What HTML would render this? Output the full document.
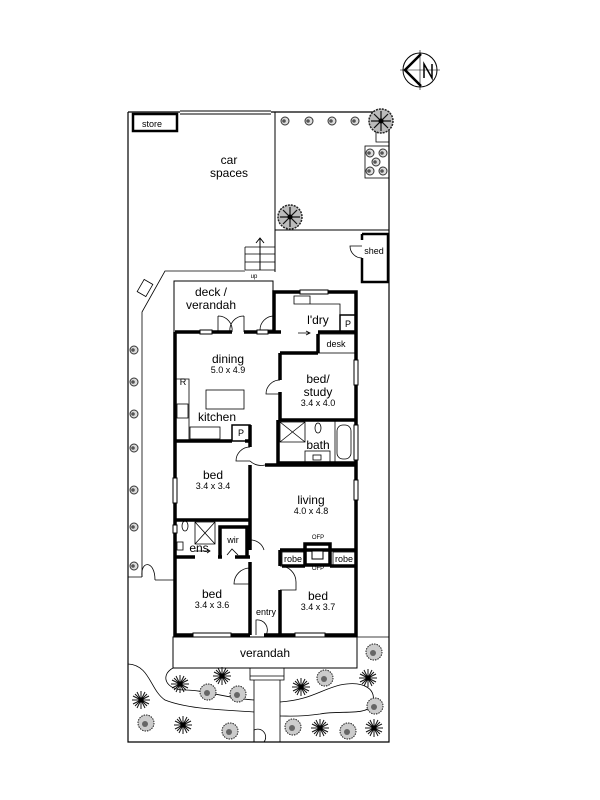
<!DOCTYPE html>
<html><head><meta charset="utf-8"><style>
html,body{margin:0;padding:0;background:#fff;}
svg{display:block;}
text{font-family:"Liberation Sans",Arial,sans-serif;fill:#000;text-anchor:middle;}
.l{font-size:12px;}
.s{font-size:9px;}
.xs{font-size:6px;}
</style></head><body>
<svg width="600" height="800" viewBox="0 0 600 800" xmlns="http://www.w3.org/2000/svg">
<defs>
<g id="sh"><circle r="4" fill="#ddd" stroke="#333" stroke-width="1"/><circle r="1.8" cx="-1" fill="#555"/></g>
<g id="tr"><circle r="12" fill="#bbb" stroke="#222" stroke-width="1.5" stroke-dasharray="2 1"/><path d="M-10 0H10M0-10V10M-7-7L7 7M7-7L-7 7" stroke="#111" stroke-width="1.2"/><circle r="2.5" fill="#000"/></g>
<g id="sp"><path d="M-9 0H9M0-9V9M-6-6L6 6M6-6L-6 6M-8-4L8 4M-8 4L8-4M-4-8L4 8M4-8L-4 8" stroke="#111" stroke-width="1"/><circle r="2.5" fill="#000"/></g>
<g id="bs"><circle r="8" fill="#ccc" stroke="#222" stroke-width="1" stroke-dasharray="1.5 1"/><circle r="3" cx="-1" cy="1" fill="#666"/></g>
</defs>
<g fill="none" stroke="#000">
<path d="M128 112V742H389V112H271M180 112H128" stroke-width="1.2"/>
<path d="M180 111H271M180 114H271" stroke-width="1"/>
<rect x="133" y="114" width="44" height="17" stroke-width="2.5"/>
<path d="M275 112V272M275 230H389" stroke-width="1"/>
<rect x="365" y="146" width="24" height="32" stroke-width="0.8"/>
<path d="M376 131V142H389" stroke-width="0.8"/>
<path d="M362 234H388V282H362V258" stroke-width="2.5"/>
<path d="M362 234V240" stroke-width="2.5"/>
<path d="M362 246H350 A12 12 0 0 0 362 258" stroke-width="0.8"/>
<path d="M245 247H275M245 254H275M245 262H275M245 270H275M245 247V270" stroke-width="0.8"/>
<path d="M260 270V238M256 243L260 238L264 243" stroke-width="1"/>
<path d="M245 271H165L142 312V577" stroke-width="0.8"/>
<rect x="138" y="283" width="14" height="10" transform="rotate(-60 145 288)" stroke-width="0.8"/>
<path d="M128 577H142M155 580H175M142 577 C140 560 155 560 155 580" stroke-width="0.8"/>
<path d="M174 332V281H273V332" stroke-width="1"/>
<g stroke-width="3.5">
<path d="M175 332V635H250M264 635H280M280 635H356V292H300M328 292H274V332"/>
<path d="M175 332H200M212 332H232M244 332H257M268 332H281"/>
<path d="M318 332H356M318 334V353M280 353H318M280 353V380M280 392V420H356"/>
<path d="M175 441H232M245 441H250V425M250 441V447M278 420V463H356M265 465H356"/>
<path d="M250 465V550M250 562V635M175 520H250M175 557H195M218 557H222M235 557H250"/>
<path d="M220 557V527H247V557M280 550H356M280 550V566M280 590V635M282 566H305M330 566H356"/>
</g>
<g stroke-width="1" fill="#fff">
<rect x="200" y="330" width="12" height="4"/><rect x="257" y="330" width="11" height="4"/>
<rect x="300" y="290" width="28" height="4"/><rect x="354" y="360" width="4" height="25"/>
<rect x="354" y="425" width="4" height="35"/><rect x="354" y="480" width="4" height="20"/>
<rect x="173" y="478" width="4" height="25"/><rect x="173" y="525" width="4" height="8"/>
<rect x="193" y="633" width="38" height="4"/><rect x="295" y="633" width="30" height="4"/>
</g>
<g stroke-width="0.8">
<path d="M294 296H310V304H294Z M310 304H340V315"/>
<rect x="340" y="315" width="16" height="17" stroke-width="1.5"/>
<rect x="318" y="334" width="38" height="19"/>
<path d="M175 379H189V442"/>
<rect x="177" y="404" width="11" height="14"/>
<rect x="206" y="390" width="38" height="19"/>
<rect x="190" y="427" width="30" height="12"/>
<rect x="232" y="425" width="18" height="16" stroke-width="1.5"/>
<path d="M280 422H305V442H280ZM280 422L305 442M305 422L280 442"/>
<ellipse cx="318" cy="428" rx="3" ry="5"/>
<rect x="305" y="451" width="25" height="12"/><rect x="313" y="455" width="8" height="5"/>
<path d="M335 420V463"/><rect x="337" y="425" width="14" height="34" rx="6"/>
<ellipse cx="185" cy="526" rx="3" ry="5"/>
<path d="M195 522H215V544H195ZM195 522L215 544M215 522L195 544"/>
<rect x="177" y="542" width="6" height="8"/>
<path d="M195 551H210M207 549L210 551L207 553"/>
<path d="M298 333H310M306 331L310 333L306 335"/>
<path d="M227 555L232 549L238 555"/>
<rect x="282" y="552" width="22" height="13"/><rect x="333" y="552" width="22" height="13"/>
</g>
<path d="M305 544H330V565H305Z" stroke-width="3.5"/>
<rect x="312" y="551" width="11" height="8" fill="#fff" stroke-width="1"/>
<g stroke-width="0.8">
<path d="M218 316V332M218 316A14 14 0 0 1 232 332M244 316V332M244 316A14 14 0 0 0 230 332"/>
<path d="M274 316A14 14 0 0 0 260 330H274"/>
<path d="M280 380A14 14 0 0 0 266 394H280"/>
<path d="M250 447A14 14 0 0 0 236 461H250"/>
<path d="M250 461A16 16 0 0 0 265 465"/>
<path d="M250 540A14 14 0 0 1 264 550"/>
<path d="M250 568A16 16 0 0 0 234 584H250"/>
<path d="M280 566A16 16 0 0 1 296 582V590H280"/>
<path d="M256 635V620A10 10 0 0 1 266 635"/>
</g>
<rect x="173" y="637" width="184" height="31" stroke-width="1"/>
<path d="M250 668V680H284V668M250 676H284M254 680V742M280 680V742" stroke-width="0.8"/>
<path d="M254 742V730A8 8 0 0 1 264 742" stroke-width="0.8"/>
<path d="M128 664C150 665 150 690 165 700C190 710 230 710 254 712M173 668C160 675 165 690 185 690C205 690 225 698 254 700" stroke-width="0.8"/>
<path d="M280 702C310 700 320 690 340 685C365 680 378 690 372 705C366 716 340 710 320 714C300 717 290 716 280 716" stroke-width="0.8"/>
<path d="M357 637H389" stroke-width="0.8"/>
<circle cx="420" cy="70" r="17" stroke-width="1"/>
<path d="M400 70H440M420 50V90" stroke-width="0.6"/>
<path d="M421 54L405 70L421 86" stroke-width="2.5"/>
<path d="M424 78V64L432 78V64" stroke-width="1.5"/>
</g>
<use href="#sh" x="285" y="121"/><use href="#sh" x="309" y="121"/><use href="#sh" x="332" y="121"/><use href="#sh" x="355" y="121"/>
<use href="#tr" x="381" y="121"/><use href="#tr" x="290" y="217"/>
<use href="#sh" x="370" y="153"/><use href="#sh" x="383" y="153"/><use href="#sh" x="376" y="162"/><use href="#sh" x="370" y="171"/><use href="#sh" x="383" y="171"/>
<use href="#sh" x="134" y="350"/><use href="#sh" x="134" y="382"/><use href="#sh" x="134" y="414"/><use href="#sh" x="134" y="448"/><use href="#sh" x="134" y="490"/><use href="#sh" x="134" y="527"/><use href="#sh" x="134" y="566"/>
<use href="#bs" x="374" y="652"/><use href="#bs" x="325" y="678"/><use href="#bs" x="375" y="706"/><use href="#bs" x="208" y="692"/><use href="#bs" x="238" y="694"/><use href="#bs" x="146" y="723"/><use href="#bs" x="230" y="731"/><use href="#bs" x="293" y="727"/><use href="#bs" x="348" y="731"/>
<use href="#sp" x="180" y="684"/><use href="#sp" x="222" y="676"/><use href="#sp" x="141" y="700"/><use href="#sp" x="183" y="725"/><use href="#sp" x="301" y="687"/><use href="#sp" x="368" y="678"/><use href="#sp" x="320" y="728"/><use href="#sp" x="374" y="728"/>
<text class="s" x="152" y="127">store</text>
<text class="l" x="229" y="164">car</text><text class="l" x="229" y="177">spaces</text>
<text class="s" x="374" y="254">shed</text>
<text class="xs" x="254" y="278">up</text>
<text class="l" x="211" y="296">deck /</text><text class="l" x="211" y="309">verandah</text>
<text class="l" x="318" y="324">l'dry</text>
<text class="s" x="348" y="327">P</text>
<text class="s" x="336" y="347">desk</text>
<text class="l" x="228" y="363">dining</text><text class="s" x="228" y="373">5.0 x 4.9</text>
<text class="s" x="183" y="385">R</text>
<text class="l" x="217" y="421">kitchen</text>
<text class="s" x="241" y="436">P</text>
<text class="l" x="318" y="383">bed/</text><text class="l" x="318" y="396">study</text><text class="s" x="318" y="406">3.4 x 4.0</text>
<text class="l" x="318" y="449">bath</text>
<text class="l" x="213" y="479">bed</text><text class="s" x="213" y="489">3.4 x 3.4</text>
<text class="l" x="311" y="504">living</text><text class="s" x="311" y="514">4.0 x 4.8</text>
<text class="xs" x="318" y="539">OFP</text><text class="xs" x="318" y="570">OFP</text>
<text class="l" x="199" y="552">ens</text>
<text class="s" x="233" y="543">wir</text>
<text class="s" x="293" y="562">robe</text><text class="s" x="344" y="562">robe</text>
<text class="l" x="212" y="598">bed</text><text class="s" x="212" y="608">3.4 x 3.6</text>
<text class="s" x="266" y="615">entry</text>
<text class="l" x="318" y="600">bed</text><text class="s" x="318" y="610">3.4 x 3.7</text>
<text class="l" x="265" y="657">verandah</text>
</svg>
</body></html>
